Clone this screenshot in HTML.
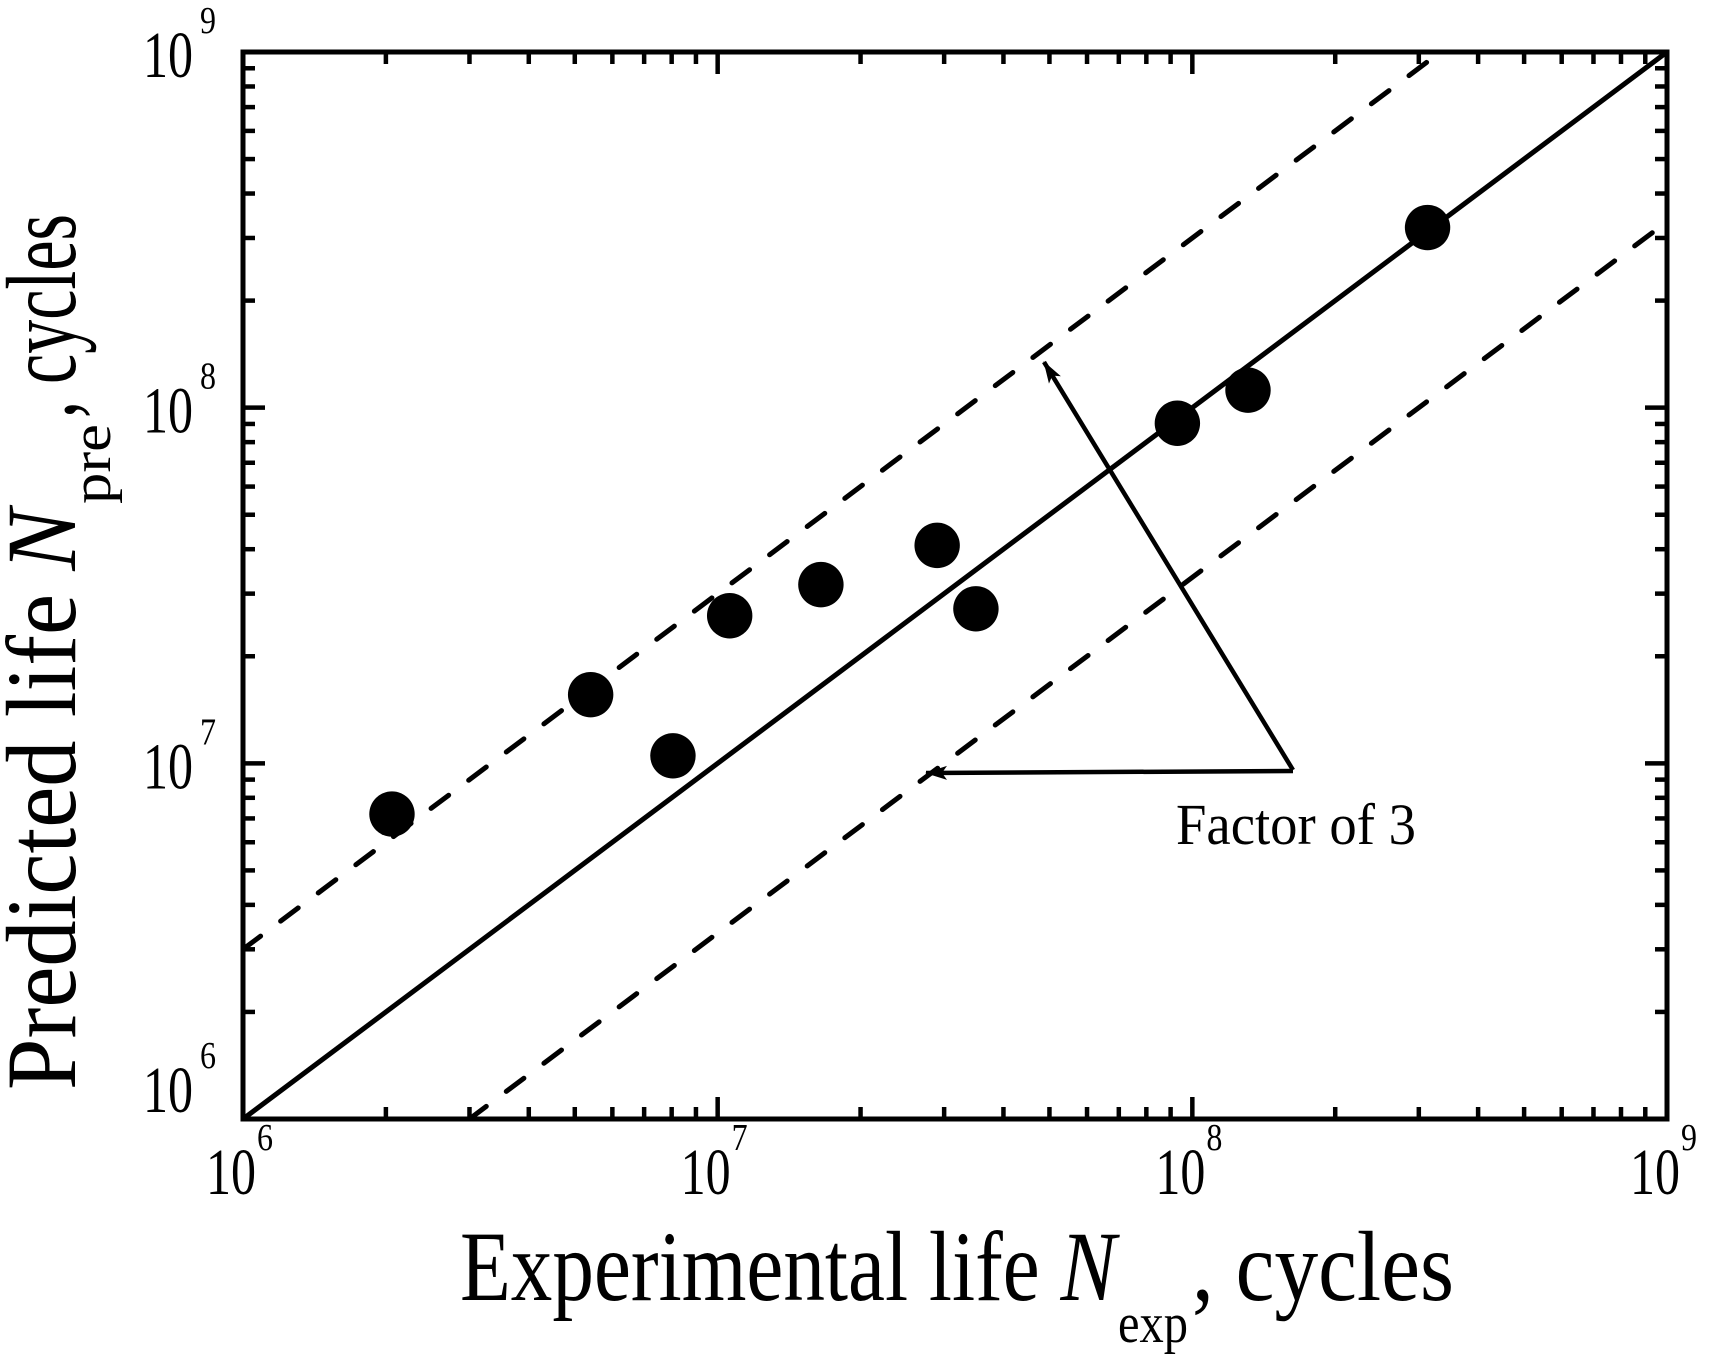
<!DOCTYPE html>
<html><head><meta charset="utf-8"><style>
html,body{margin:0;padding:0;background:#fff;}
svg{display:block;}
text{font-family:"Liberation Serif",serif;fill:#000;}
</style></head><body>
<svg id="chart" width="1718" height="1364" viewBox="0 0 1718 1364" xmlns="http://www.w3.org/2000/svg"></svg>
<script>
const expLife = [2.06e6, 5.4e6, 8.05e6, 1.06e7, 1.65e7, 2.9e7, 3.5e7, 9.3e7, 1.31e8, 3.13e8];
const predLife = [7.2e6, 1.56e7, 1.05e7, 2.6e7, 3.18e7, 4.1e7, 2.72e7, 9.04e7, 1.12e8, 3.21e8];
const decadeExps = [6, 7, 8, 9];
const factorBand = [3, 1/3];

const L=243,R=1667,T=52,B=1119;
const xmin=6,xmax=9;
const sx=v=>L+(Math.log10(v)-xmin)/(xmax-xmin)*(R-L);
const sy=v=>B-(Math.log10(v)-xmin)/(xmax-xmin)*(B-T);
const NS='http://www.w3.org/2000/svg';
const svg=document.getElementById('chart');
function mk(tag,attrs,parent){const e=document.createElementNS(NS,tag);for(const k in attrs)e.setAttribute(k,attrs[k]);(parent||svg).appendChild(e);return e;}

const defs=mk('defs',{});
const cp=mk('clipPath',{id:'clip'},defs);
mk('rect',{x:L,y:T,width:R-L,height:B-T},cp);
const mkr=mk('marker',{id:'arrow',markerWidth:'22',markerHeight:'16',refX:'21',refY:'8',orient:'auto',markerUnits:'userSpaceOnUse'},defs);
mk('path',{d:'M0,1 L22,8 L0,15 L5,8 Z',fill:'#000'},mkr);

const diag=mk('line',{x1:sx(1e6),y1:sy(1e6),x2:sx(1e9),y2:sy(1e9),stroke:'#000','stroke-width':5,'clip-path':'url(#clip)'});


factorBand.forEach((f,i)=>{
  const l=mk('line',{x1:sx(1e6),y1:sy(1e6*f),x2:sx(1e9),y2:sy(1e9*f),stroke:'#000','stroke-width':5,'stroke-dasharray':'22 25','stroke-linecap':'round','clip-path':'url(#clip)'});
  
  
});

expLife.forEach((x,i)=>{
  const c=mk('circle',{cx:sx(x),cy:sy(predLife[i]),r:22.7,fill:'#000'});
  
  
});

const frame=mk('rect',{x:L,y:T,width:R-L,height:B-T,fill:'none',stroke:'#000','stroke-width':5});



for(let d=6;d<9;d++){
  for(let m=1;m<10;m++){
    const v=m*Math.pow(10,d);
    const len=m===1?22:12;
    const x=sx(v),y=sy(v);
    if(m>1||d>6){
      mk('line',{x1:x,y1:B,x2:x,y2:B-len,stroke:'#000','stroke-width':4.5});
      mk('line',{x1:x,y1:T,x2:x,y2:T+len,stroke:'#000','stroke-width':4.5});
      mk('line',{x1:L,y1:y,x2:L+len,y2:y,stroke:'#000','stroke-width':4.5});
      mk('line',{x1:R,y1:y,x2:R-len,y2:y,stroke:'#000','stroke-width':4.5});
    }
  }
}

decadeExps.forEach(e=>{
  const v=Math.pow(10,e);
  const gx=mk('g',{});
  
  
  const x=sx(v);
  mk('text',{x:x-37,y:1194,'font-size':66,textLength:50,lengthAdjust:'spacingAndGlyphs'},gx).textContent='10';
  mk('text',{x:x+14,y:1150,'font-size':38,textLength:16,lengthAdjust:'spacingAndGlyphs'},gx).textContent=String(e);
  const gy=mk('g',{});
  
  
  const y=e===6?B-7:sy(v)+25;
  mk('text',{x:143,y:y,'font-size':66,textLength:50,lengthAdjust:'spacingAndGlyphs'},gy).textContent='10';
  mk('text',{x:200,y:y-44,'font-size':38,textLength:16,lengthAdjust:'spacingAndGlyphs'},gy).textContent=String(e);
});

const a1=mk('path',{d:'M1293,770 L1044,362',stroke:'#000','stroke-width':4.5,fill:'none','marker-end':'url(#arrow)'});


const a2=mk('path',{d:'M1293,771 L926,773',stroke:'#000','stroke-width':4.5,fill:'none','marker-end':'url(#arrow)'});


</script>
<svg style="position:absolute;left:0;top:0" width="1718" height="1364" xmlns="http://www.w3.org/2000/svg">
<text x="1176" y="844" font-family="Liberation Serif, serif" font-size="58" textLength="240" lengthAdjust="spacingAndGlyphs">Factor of 3</text>
<g>
<text x="460" y="1300" font-size="100" textLength="656" lengthAdjust="spacingAndGlyphs">Experimental life <tspan font-style="italic">N</tspan></text>
<text x="1118" y="1342" font-size="56" textLength="70" lengthAdjust="spacingAndGlyphs">exp</text>
<text x="1192" y="1300" font-size="100" textLength="262" lengthAdjust="spacingAndGlyphs">, cycles</text>
</g>
<g transform="translate(75,1090) rotate(-90)">
<text x="0" y="0" font-size="100" textLength="581" lengthAdjust="spacingAndGlyphs">Predicted life <tspan font-style="italic">N</tspan></text>
<text x="586" y="35" font-size="56" textLength="80" lengthAdjust="spacingAndGlyphs">pre</text>
<text x="672" y="0" font-size="100" textLength="204" lengthAdjust="spacingAndGlyphs">, cycles</text>
</g>
</svg>
</body></html>
